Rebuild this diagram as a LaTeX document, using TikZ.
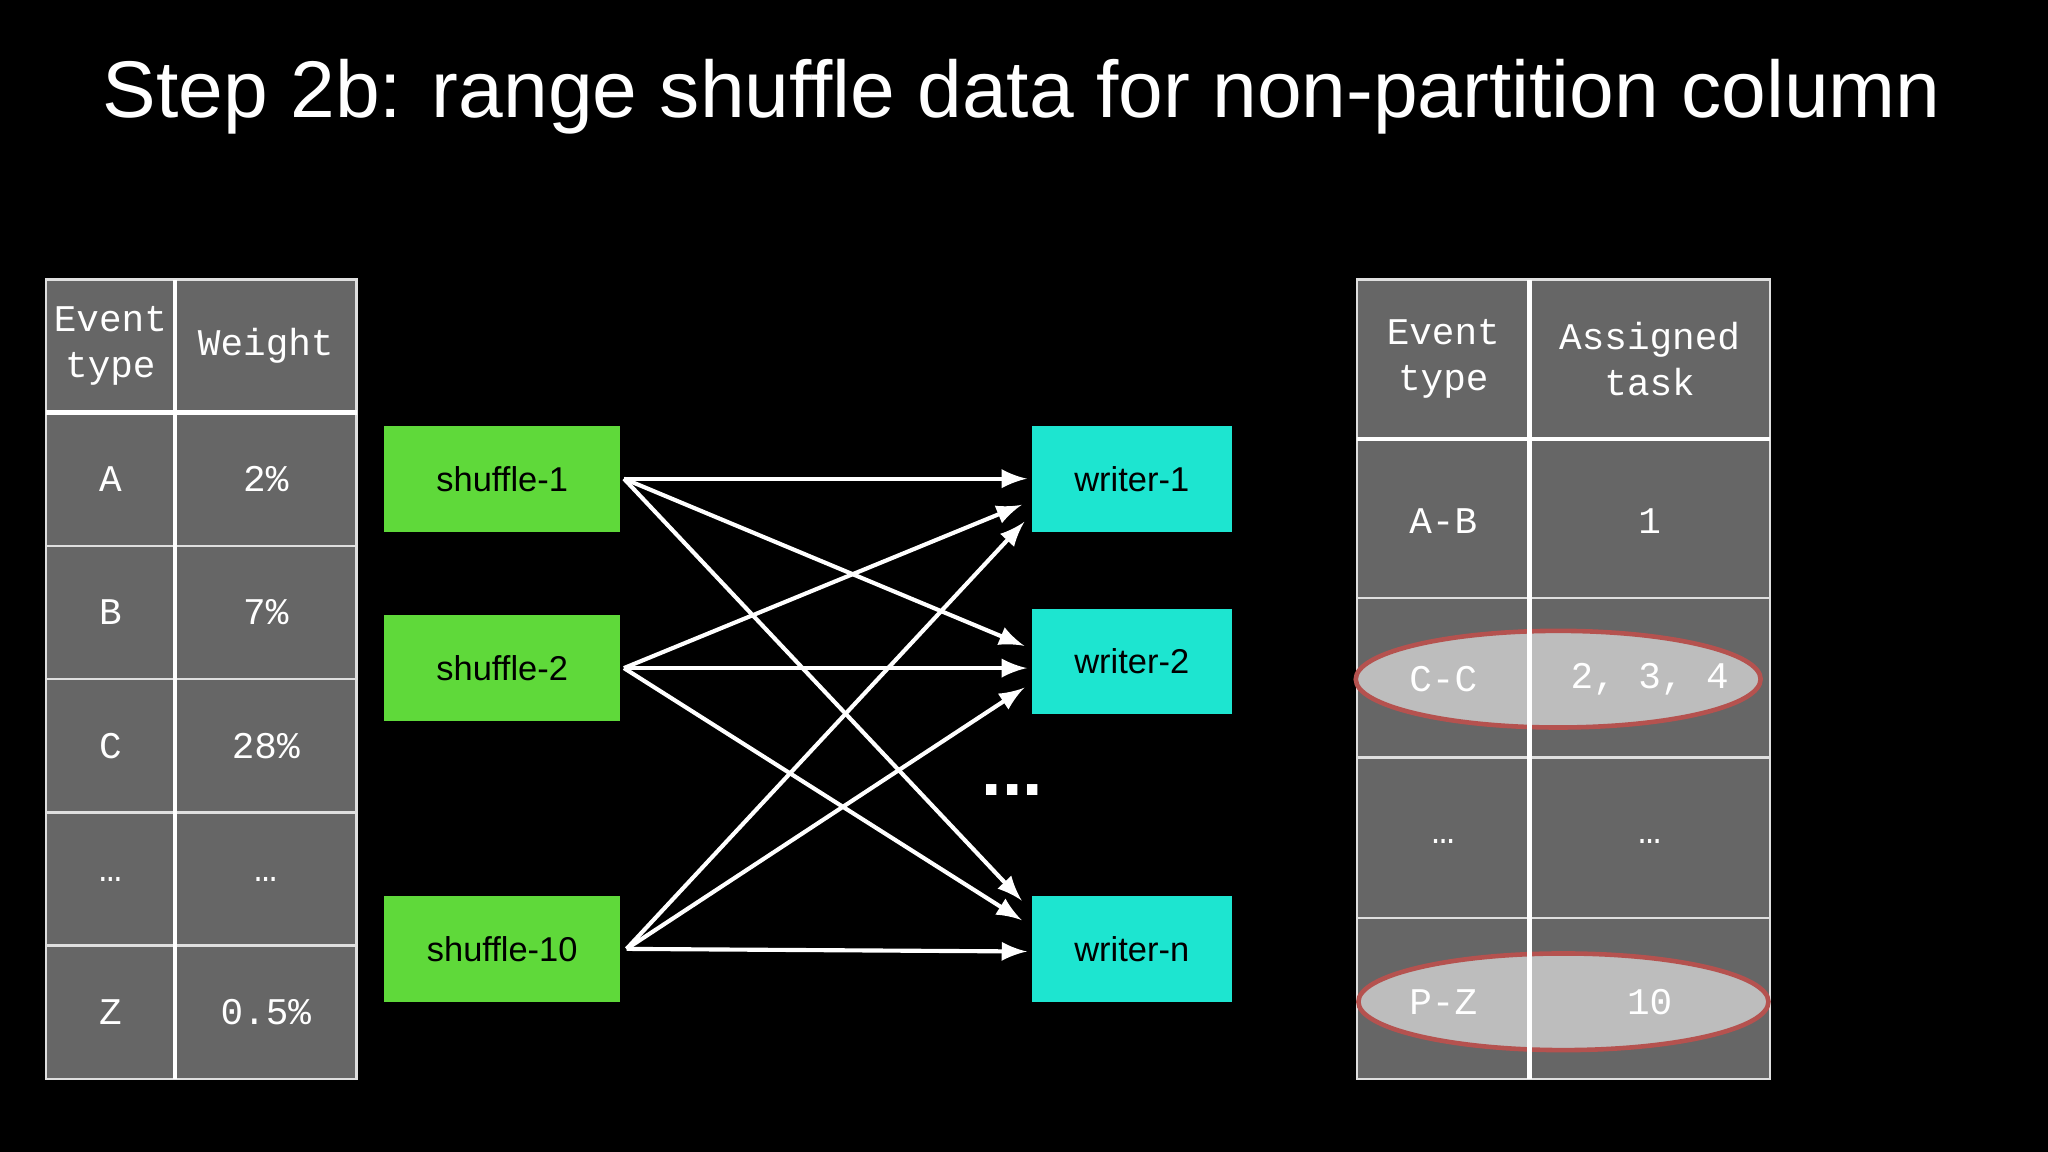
\documentclass[tikz,border=0pt]{standalone}
\usetikzlibrary{calc}
\usepackage{fontspec}
\setmainfont{Liberation Sans}
\setmonofont{Liberation Mono}
\definecolor{cellgray}{HTML}{666666}
\definecolor{sgreen}{HTML}{5FD93A}
\definecolor{wcyan}{HTML}{1DE5D0}
\definecolor{ellfill}{HTML}{BDBDBD}
\definecolor{ellline}{HTML}{B5524F}
\begin{document}
\begin{tikzpicture}[x=0.01cm,y=-0.01cm,
  cell/.style={fill=cellgray,draw=white!75!gray,line width=0.5pt},
  ctext/.style={text=white,font=\ttfamily\fontsize{8.2}{10}\selectfont,align=center},
  sbox/.style={fill=sgreen,minimum width=181*0.01cm,minimum height=81*0.01cm,inner sep=0pt,font=\fontsize{7.5}{9}\selectfont},
  wbox/.style={fill=wcyan,minimum width=153*0.01cm,minimum height=81*0.01cm,inner sep=0pt,font=\fontsize{7.5}{9}\selectfont},
  arr/.style={draw=white,line width=0.9pt,-latex}]
\fill[black] (0,0) rectangle (1568,882);
\useasboundingbox (0,0) rectangle (1568,882);
\node[anchor=base west,text=white,font=\fontsize{17.5}{20}\selectfont,inner sep=0pt] (title) at (78,90) {Step 2b: range shuffle data for non-partition column};
% left table
\foreach \ya/\yb/\a/\b [count=\i] in {214/316/{Event\\type}/Weight,316/418/A/2\%,418/520/B/7\%,520/622/C/28\%,622/724/…/…,724/826/Z/0.5\%}{
  \draw[cell] (35,\ya) rectangle (134,\yb);
  \draw[cell] (134,\ya) rectangle (273,\yb);
  \node[ctext] (la\i) at (84.5,{(\ya+\yb)/2}) {\a};
  \node[ctext] (lb\i) at (203.5,{(\ya+\yb)/2}) {\b};
}
\draw[white,line width=1pt] (134,214) -- (134,826);
\draw[white,line width=1pt] (35,316) -- (273,316);
% right table
\foreach \ya/\yb [count=\i] in {214/336,336/458,458/580,580/703,703/826}{
  \draw[cell] (1039,\ya) rectangle (1171,\yb);
  \draw[cell] (1171,\ya) rectangle (1355,\yb);
}
\draw[ellline,fill=ellfill,line width=1pt] (1193,520) ellipse (155 and 37);
\draw[ellline,fill=ellfill,line width=1pt] (1197,767) ellipse (157 and 37);
\draw[white,line width=1pt] (1171,214) -- (1171,826);
\draw[white,line width=1pt] (1039,336) -- (1355,336);
\foreach \yc/\a/\b [count=\i] in {275/{Event\\type}/{Assigned\\task},399/A-B/1,520/C-C/{2, 3, 4},644/…/…,767/P-Z/10}{
  \node[ctext] (ra\i) at (1105,\yc) {\a};
  \node[ctext] (rb\i) at (1263,\yc) {\b};
}
% boxes
\node[sbox] (s1) at (384.5,366.5) {shuffle-1};
\node[sbox] (s2) at (384.5,511.5) {shuffle-2};
\node[sbox] (s10) at (384.5,726.5) {shuffle-10};
\node[wbox] (w1) at (866.5,366.5) {writer-1};
\node[wbox] (w2) at (866.5,506.5) {writer-2};
\node[wbox] (wn) at (866.5,726.5) {writer-n};
\node[text=white,font=\bfseries\fontsize{16}{16}\selectfont] (dots) at (775,605) {...};
% arrows
\coordinate (s1o) at ($(s1.east)+(2,0)$);
\coordinate (s2o) at ($(s2.east)+(2,0)$);
\coordinate (s10o) at ($(s10.east)+(4,0)$);
\draw[arr] (s1o) -- ($(w1.west)+(-3,0)$);
\draw[arr] (s1o) -- ($(w2.west)+(-5,-12)$);
\draw[arr] (s1o) -- ($(wn.west)+(-7,-37)$);
\draw[arr] (s2o) -- ($(w1.west)+(-7,20)$);
\draw[arr] (s2o) -- ($(w2.west)+(-3,5)$);
\draw[arr] (s2o) -- ($(wn.west)+(-7,-22)$);
\draw[arr] (s10o) -- ($(w1.west)+(-5,33)$);
\draw[arr] (s10o) -- ($(w2.west)+(-5,20)$);
\draw[arr] (s10o) -- ($(wn.west)+(-3,2)$);
\end{tikzpicture}
\end{document}
